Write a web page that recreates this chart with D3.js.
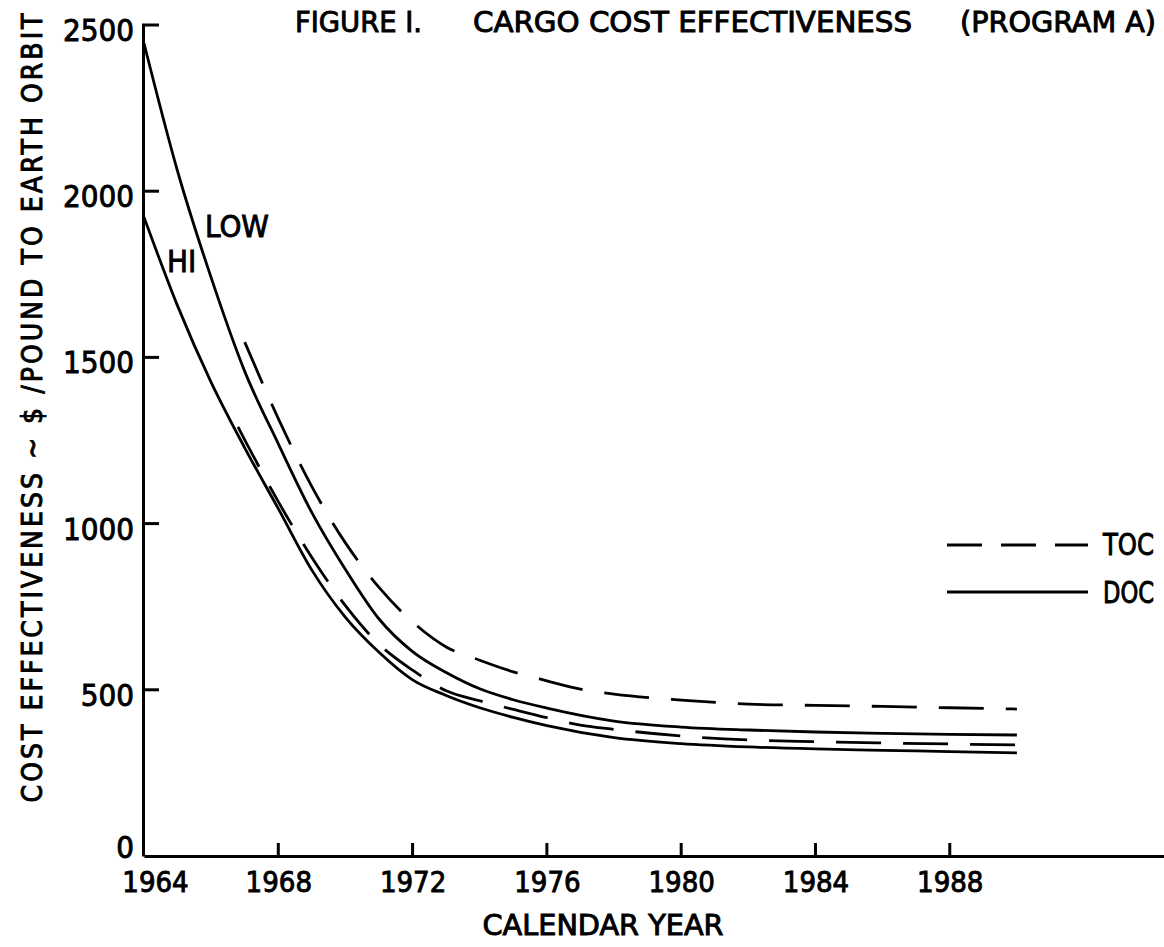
<!DOCTYPE html>
<html><head><meta charset="utf-8">
<script src="https://cdn.jsdelivr.net/npm/d3@7"></script>
<style>
html,body{margin:0;padding:0;background:#fff;}
svg{display:block;background:#fff;}
text{font-family:"DejaVu Sans Condensed","Liberation Sans Narrow","DejaVu Sans",sans-serif;font-weight:normal;fill:#000;stroke:#000;stroke-width:0.9px;}
</style></head><body>
<svg id="chart" width="1164" height="947"></svg>
<script>
// ---- data ----
const titleParts = ["FIGURE I.", "CARGO COST EFFECTIVENESS", "(PROGRAM A)"];
const xAxisTitle = "CALENDAR YEAR";
const yAxisTitle = "COST EFFECTIVENESS ~ $ /POUND TO EARTH ORBIT";
const xTickYears = [1964, 1968, 1972, 1976, 1980, 1984, 1988];
const yTickValues = [0, 500, 1000, 1500, 2000, 2500];

const docYears = [1964,1965,1966,1967,1968,1969,1970,1971,1972,1973,1974,1975,1976,1978,1980,1982,1984,1986,1988,1990];
const docLow   = [2445,2060,1740,1458,1240,1033,862,713,615,552,503,470,445,406,388,379,373,369,366,364];
const docHi    = [1922,1655,1425,1228,1045,860,718,613,530,483,446,417,392,356,338,328,322,318,314,310];

const tocLowYears = [1967,1968,1969,1970,1971,1972,1973,1974,1975,1976,1977,1978,1980,1982,1984,1986,1988,1990];
const tocLow      = [1546,1316,1111,942,808,704,629,589,554,527,502,487,469,457,453,450,446,442];
const tocHiYears  = [1966.8,1967,1968,1969,1970,1971,1972,1973,1974,1975,1976,1977,1978,1980,1982,1984,1986,1988,1990];
const tocHi       = [1291,1252,1066,898,753,637,559,497,467,441,416,394,381,361,349,344,340,337,334];

const legendLabels = ["TOC", "DOC"];
const curveLabels = ["LOW", "HI"];

// ---- drawing ----
const svg = d3.select("#chart");
const x = d3.scaleLinear().domain([1964, 1994.5]).range([144, 1168]);
const y = d3.scaleLinear().domain([0, 2500]).range([856, 25]);

// title
const titleSpec = [{x:295, len:127}, {x:473, len:439}, {x:960, len:196}];
titleParts.forEach((t,i)=>{
  svg.append("text").attr("x", titleSpec[i].x).attr("y", 32)
    .attr("font-size", 29).attr("textLength", titleSpec[i].len)
    .attr("lengthAdjust","spacingAndGlyphs").text(t);
});

// axes
const gx = svg.append("g").attr("transform", `translate(0,${y(0)})`)
  .call(d3.axisBottom(x).tickValues(xTickYears).tickFormat(d3.format("d"))
    .tickSize(0).tickPadding(15));
gx.select(".domain").attr("stroke","#000").attr("stroke-width",3).attr("fill","none");
gx.selectAll(".tick text").attr("font-size",29).attr("font-family",null)
  .attr("dx", d => d === 1964 ? 11 : 0);

const gy = svg.append("g").attr("transform", `translate(143,0)`)
  .call(d3.axisLeft(y).tickValues(yTickValues).tickFormat(d3.format("d"))
    .tickSize(0).tickPadding(9));
gy.select(".domain").attr("stroke","#000").attr("stroke-width",3).attr("fill","none");
gy.selectAll(".tick text").attr("font-size",31).attr("font-family",null)
  .attr("dy", d => d === 0 ? "0.05em" : "0.5em");

// tick marks as filled rects
svg.append("g").selectAll("rect").data(xTickYears.slice(1)).join("rect")
  .attr("x", d => x(d) - 1.5).attr("y", y(0) - 13).attr("width", 3).attr("height", 13)
  .attr("fill", "#000");
svg.append("g").selectAll("rect").data(yTickValues.slice(1)).join("rect")
  .attr("x", 142).attr("y", d => y(d) - 1.5).attr("width", 17).attr("height", 3)
  .attr("fill", "#000");

// axis titles
svg.append("text").attr("x", 603).attr("y", 935).attr("text-anchor","middle")
  .attr("font-size", 29).attr("textLength", 241).attr("lengthAdjust","spacingAndGlyphs")
  .text(xAxisTitle);
svg.append("text").attr("transform","translate(42,408) rotate(-90)")
  .attr("text-anchor","middle").attr("font-size", 28)
  .attr("textLength", 789).attr("lengthAdjust","spacing")
  .text(yAxisTitle);

// curves
const line = d3.line().x(d => x(d[0])).y(d => y(d[1])).curve(d3.curveMonotoneX);
const series = [
  {yrs: docYears, vals: docLow, dash: null},
  {yrs: docYears, vals: docHi, dash: null},
  {yrs: tocLowYears, vals: tocLow, dash: "45,22"},
  {yrs: tocHiYears, vals: tocHi, dash: "45,22"}
];
series.forEach(s => {
  svg.append("path").datum(d3.zip(s.yrs, s.vals))
    .attr("d", line).attr("fill","none").attr("stroke","#000")
    .attr("stroke-width", 2.8).attr("stroke-dasharray", s.dash);
});

// curve labels
svg.append("text").attr("x", 205).attr("y", 237).attr("font-size", 31).text(curveLabels[0]);
svg.append("text").attr("x", 167).attr("y", 272).attr("font-size", 31).text(curveLabels[1]);

// legend
const legend = [{label: legendLabels[0], dash: "35,19", yy: 545, ty: 555},
                {label: legendLabels[1], dash: null, yy: 592, ty: 603}];
legend.forEach(l => {
  svg.append("line").attr("x1", 947).attr("x2", 1088).attr("y1", l.yy).attr("y2", l.yy)
    .attr("stroke","#000").attr("stroke-width", 3).attr("stroke-dasharray", l.dash);
  svg.append("text").attr("x", 1103).attr("y", l.ty).attr("font-size", 30)
    .attr("textLength", 51).attr("lengthAdjust","spacingAndGlyphs").text(l.label);
});
</script>
</body></html>
